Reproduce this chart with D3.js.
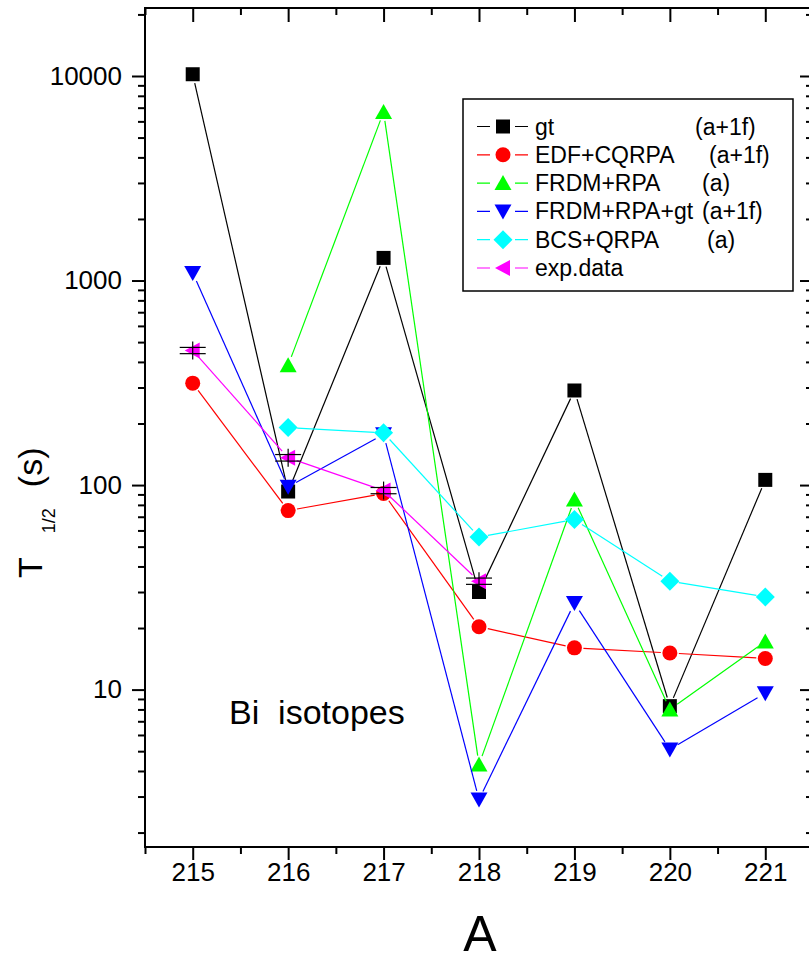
<!DOCTYPE html>
<html>
<head>
<meta charset="utf-8">
<script src="https://cdn.jsdelivr.net/npm/d3@7"></script>
<style>
  body { margin: 0; background: #fff; }
  text { font-family: "Liberation Sans", Arial, sans-serif; fill: #000; }
</style>
</head>
<body>
<svg id="chart" width="809" height="956"></svg>
<script>
"use strict";

// mass numbers of the Bi isotopes
var massNumbers = [215, 216, 217, 218, 219, 220, 221];

// half-lives in seconds (null = no point)
var gtValues       = [10200, 93, 1290, 30, 290, 8.3, 106];
var edfValues      = [315, 75, 91, 20.3, 16, 15.1, 14.2];
var frdmValues     = [null, 385, 6670, 4.3, 85, 8.0, 17.2];
var frdmGtValues   = [1090, 98, 177, 2.9, 26.5, 5.1, 9.6];
var bcsValues      = [null, 191, 180, 55.7, 67.8, 33.9, 28.4];
var expValues      = [455, 136, 94, 33.9, null, null, null];
var expErrors      = [16, 5, 3.3, 1.2, null, null, null];

var seriesNames = ["gt", "EDF+CQRPA", "FRDM+RPA", "FRDM+RPA+gt", "BCS+QRPA", "exp.data"];
var seriesNotes = ["(a+1f)", "(a+1f)", "(a)", "(a+1f)", "(a)", ""];
var seriesColors = ["#000000", "#ff0000", "#00ff00", "#0000ff", "#00ffff", "#ff00ff"];
var seriesShapes = ["square", "circle", "triUp", "triDown", "diamond", "triLeft"];

var yMajorTicks = [10, 100, 1000, 10000];
var xMajorTicks = [215, 216, 217, 218, 219, 220, 221];

var svg = d3.select("#chart");

var plotLeft = 145, plotRight = 813, plotTop = 8, plotBottom = 847;

var x = d3.scaleLinear().domain([214.5, 221.5]).range([plotLeft, plotRight]);
var y = d3.scaleLog().domain([1.7, 21500]).range([plotBottom, plotTop]);

//minor ticks: 2..9 of each decade inside the domain, and half steps on A
var yMinorTicks = [];
[1, 10, 100, 1000, 10000].forEach(function(dec){
	for(var k = 2; k <= 9; k++){
		var v = dec*k;
		if(v >= 1.7 && v <= 21500) yMinorTicks.push(v);
	}
});
var xMinorTicks = xMajorTicks.map(function(d){ return d - 0.5; }).concat([221.5]);

function styleAxis(g){
	g.select(".domain").remove();
	g.selectAll(".tick line").attr("stroke", "#000").attr("stroke-width", 2);
	g.selectAll(".tick text").style("font-family", "\"Liberation Sans\", Arial, sans-serif").style("font-size", "26px").attr("fill", "#000");
}

//left axis, ticks outward
svg.append("g").attr("transform", "translate(" + plotLeft + ",0)")
	.call(d3.axisLeft(y).tickValues(yMinorTicks).tickSize(7).tickFormat(""))
	.call(styleAxis);
svg.append("g").attr("transform", "translate(" + plotLeft + ",0)")
	.call(d3.axisLeft(y).tickValues(yMajorTicks).tickSize(13).tickPadding(10).tickFormat(d3.format("d")))
	.call(styleAxis);

//right axis, ticks inward
svg.append("g").attr("transform", "translate(" + plotRight + ",0)")
	.call(d3.axisLeft(y).tickValues(yMinorTicks).tickSize(7).tickFormat(""))
	.call(styleAxis);
svg.append("g").attr("transform", "translate(" + plotRight + ",0)")
	.call(d3.axisLeft(y).tickValues(yMajorTicks).tickSize(13).tickFormat(""))
	.call(styleAxis);

//bottom axis, ticks outward
svg.append("g").attr("transform", "translate(0," + plotBottom + ")")
	.call(d3.axisBottom(x).tickValues(xMinorTicks).tickSize(7).tickFormat(""))
	.call(styleAxis);
svg.append("g").attr("transform", "translate(0," + plotBottom + ")")
	.call(d3.axisBottom(x).tickValues(xMajorTicks).tickSize(13).tickPadding(3).tickFormat(d3.format("d")))
	.call(styleAxis);

//top axis, ticks inward
svg.append("g").attr("transform", "translate(0," + plotTop + ")")
	.call(d3.axisBottom(x).tickValues(xMinorTicks).tickSize(7).tickFormat(""))
	.call(styleAxis);
svg.append("g").attr("transform", "translate(0," + plotTop + ")")
	.call(d3.axisBottom(x).tickValues(xMajorTicks).tickSize(14).tickFormat(""))
	.call(styleAxis);

//frame
svg.append("rect")
	.attr("x", plotLeft).attr("y", plotTop)
	.attr("width", plotRight - plotLeft).attr("height", plotBottom - plotTop)
	.attr("fill", "none").attr("stroke", "#000").attr("stroke-width", 2);

//marker paths centred on 0,0
function markerPath(shape){
	switch(shape){
		case "square": return "M-7,-7H7V7H-7Z";
		case "circle": return "M7.5,0A7.5,7.5 0 1,1 -7.5,0A7.5,7.5 0 1,1 7.5,0Z";
		case "triUp": return "M0,-8L8.5,7L-8.5,7Z";
		case "triDown": return "M0,8L8.5,-7L-8.5,-7Z";
		case "diamond": return "M0,-9.5L9.5,0L0,9.5L-9.5,0Z";
		case "triLeft": return "M-8,0L7,-8L7,8Z";
	}
}

var allSeries = [gtValues, edfValues, frdmValues, frdmGtValues, bcsValues, expValues];

var plot = svg.append("g");

allSeries.forEach(function(values, s){
	var pts = [];
	values.forEach(function(v, i){
		if(v != null) pts.push([x(massNumbers[i]), y(v)]);
	});

	//connecting lines stop short of the symbols
	var gap = 9;
	for(var i = 0; i < pts.length - 1; i++){
		var p0 = pts[i], p1 = pts[i + 1];
		var dx = p1[0] - p0[0], dy = p1[1] - p0[1];
		var len = Math.sqrt(dx*dx + dy*dy);
		if(len <= 2*gap) continue;
		var ux = dx/len, uy = dy/len;
		plot.append("line")
			.attr("x1", p0[0] + ux*gap).attr("y1", p0[1] + uy*gap)
			.attr("x2", p1[0] - ux*gap).attr("y2", p1[1] - uy*gap)
			.attr("stroke", seriesColors[s]).attr("stroke-width", 1.2);
	}

	plot.selectAll(null)
		.data(pts)
		.enter()
		.append("path")
		.attr("d", markerPath(seriesShapes[s]))
		.attr("transform", function(d){ return "translate(" + d[0] + "," + d[1] + ")"; })
		.attr("fill", seriesColors[s]);
});

//error bars on the experimental points
expValues.forEach(function(v, i){
	if(v == null) return;
	var cx = x(massNumbers[i]);
	var cy = y(v);
	var err = expErrors[i];
	plot.append("line")
		.attr("x1", cx).attr("x2", cx)
		.attr("y1", cy - 9).attr("y2", cy + 9)
		.attr("stroke", "#000").attr("stroke-width", 1.2);
	[v - err, v + err].forEach(function(e){
		plot.append("line")
			.attr("x1", cx - 13).attr("x2", cx + 13)
			.attr("y1", y(e)).attr("y2", y(e))
			.attr("stroke", "#000").attr("stroke-width", 1.2);
	});
});

//legend
var legend = svg.append("g");
legend.append("rect")
	.attr("x", 463).attr("y", 99)
	.attr("width", 330).attr("height", 192)
	.attr("fill", "#fff").attr("stroke", "#000").attr("stroke-width", 1.5);

var noteX = [695, 709, 702, 702, 707, 0];
seriesNames.forEach(function(name, i){
	var ly = 126.5 + i*28.3;
	legend.append("line")
		.attr("x1", 477).attr("x2", 528)
		.attr("y1", ly).attr("y2", ly)
		.attr("stroke", seriesColors[i]).attr("stroke-width", 1.2);
	legend.append("rect")
		.attr("x", 490).attr("y", ly - 10)
		.attr("width", 25).attr("height", 20)
		.attr("fill", "#fff");
	legend.append("path")
		.attr("d", markerPath(seriesShapes[i]))
		.attr("transform", "translate(503," + ly + ")")
		.attr("fill", seriesColors[i]);
	legend.append("text")
		.attr("x", 535).attr("y", ly + 8)
		.style("font-size", "23px")
		.text(name);
	if(seriesNotes[i]){
		legend.append("text")
			.attr("x", noteX[i]).attr("y", ly + 8)
			.style("font-size", "23px")
			.text(seriesNotes[i]);
	}
});

//annotation
svg.append("text")
	.attr("x", 229).attr("y", 724)
	.style("font-size", "34px")
	.style("white-space", "pre")
	.text("Bi  isotopes");

//axis titles
svg.append("text")
	.attr("x", 480).attr("y", 951)
	.attr("text-anchor", "middle")
	.style("font-size", "50px")
	.text("A");

var yTitle = svg.append("text")
	.attr("transform", "translate(42,578) rotate(-90)")
	.style("font-size", "34px");
yTitle.append("tspan").text("T");
yTitle.append("tspan").attr("dx", 24).attr("dy", 13).style("font-size", "18px").text("1/2");
yTitle.append("tspan").attr("dx", 21).attr("dy", -13).text("(s)");
</script>
</body>
</html>
